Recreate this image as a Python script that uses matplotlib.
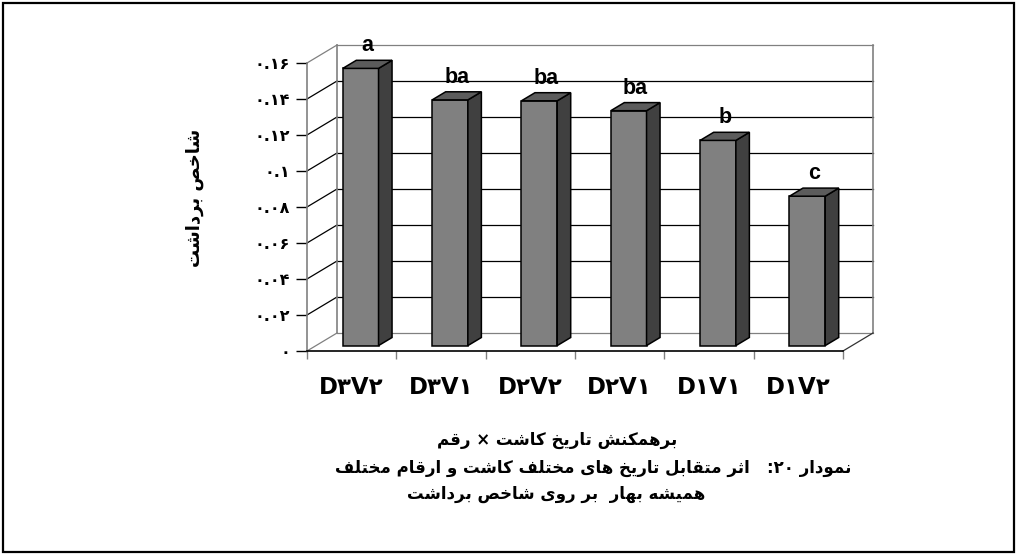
import re

import matplotlib

matplotlib.use("Agg")
import matplotlib.pyplot as plt
from matplotlib.patches import Polygon, Rectangle

# chart data
categories = ["D۳V۲", "D۳V۱", "D۲V۲", "D۲V۱", "D۱V۱", "D۱V۲"]
harvest_index = [0.154, 0.1365, 0.136, 0.1305, 0.114, 0.083]
groups = ["a", "ba", "ba", "ba", "b", "c"]
y_ticks = [0, 0.02, 0.04, 0.06, 0.08, 0.10, 0.12, 0.14, 0.16]
y_tick_labels = ["۰", "۰.۰۲", "۰.۰۴", "۰.۰۶", "۰.۰۸", "۰.۱", "۰.۱۲", "۰.۱۴", "۰.۱۶"]
y_title = "شاخص برداشت"
x_title = "برهمکنش تاریخ کاشت × رقم"
caption_no = "نمودار ۲۰:"
caption_1 = "اثر متقابل تاریخ های مختلف کاشت و ارقام مختلف"
caption_2 = "همیشه بهار  بر روی شاخص برداشت"

# persian letters -> presentation forms (isolated, final, initial, medial)
FORMS = {
    "ا": "\ufe8d\ufe8e",
    "ب": "\ufe8f\ufe90\ufe91\ufe92",
    "ت": "\ufe95\ufe96\ufe97\ufe98",
    "ث": "\ufe99\ufe9a\ufe9b\ufe9c",
    "خ": "\ufea5\ufea6\ufea7\ufea8",
    "د": "\ufea9\ufeaa",
    "ر": "\ufead\ufeae",
    "ش": "\ufeb5\ufeb6\ufeb7\ufeb8",
    "ص": "\ufeb9\ufeba\ufebb\ufebc",
    "ف": "\ufed1\ufed2\ufed3\ufed4",
    "ق": "\ufed5\ufed6\ufed7\ufed8",
    "ک": "\ufb8e\ufb8f\ufedb\ufedc",
    "ل": "\ufedd\ufede\ufedf\ufee0",
    "م": "\ufee1\ufee2\ufee3\ufee4",
    "ن": "\ufee5\ufee6\ufee7\ufee8",
    "و": "\ufeed\ufeee",
    "ه": "\ufee9\ufeea\ufeeb\ufeec",
    "ی": "\ufeef\ufef0\ufef3\ufef4",
}
DIGITS = "۰۱۲۳۴۵۶۷۸۹"


def shape(text):
    out = []
    for i, ch in enumerate(text):
        f = FORMS.get(ch)
        if f is None:
            out.append(ch)
            continue
        prev = text[i - 1] if i > 0 else ""
        nxt = text[i + 1] if i + 1 < len(text) else ""
        join_prev = prev in FORMS and len(FORMS[prev]) == 4
        join_next = nxt in FORMS and len(f) == 4
        if join_prev and join_next:
            out.append(f[3])
        elif join_prev:
            out.append(f[1])
        elif join_next:
            out.append(f[2])
        else:
            out.append(f[0])
    return "".join(out)


def rtl(text):
    runs = re.findall(f"[{DIGITS}]+|[^{DIGITS}]+", shape(text))
    return "".join(r if r[0] in DIGITS else r[::-1] for r in reversed(runs))


W, H = 1017, 555
fig = plt.figure(figsize=(W / 100, H / 100), dpi=100)
fig.patches.append(Rectangle((3 / W, 3 / H), 1 - 6 / W, 1 - 6 / H,
                             transform=fig.transFigure, fill=False,
                             lw=1.6, ec="black"))

ax = fig.add_axes([307 / W, (H - 351) / H, 536 / W, 288 / H])
ax.set_xlim(0, len(categories))
ax.set_ylim(0, 0.16)
ax.patch.set_alpha(0)

# oblique depth of the 3d box, in data units
dX, dY = 0.336, 0.010
grey = "#808080"

# back wall + left wall gridlines
for v in y_ticks:
    edge = v in (0, 0.16)
    c = grey if edge else "black"
    ax.plot([0, dX], [v, v + dY], color=c, lw=0.9, clip_on=False, zorder=1)
    ax.plot([dX, len(categories) + dX], [v + dY, v + dY], color=c, lw=0.9,
            clip_on=False, zorder=1)
ax.plot([dX, dX], [dY, 0.16 + dY], color=grey, lw=1.2, clip_on=False, zorder=1)
ax.plot([len(categories) + dX] * 2, [dY, 0.16 + dY], color=grey, lw=1.2,
        clip_on=False, zorder=1)
ax.plot([len(categories), len(categories) + dX], [0, dY], color="#333333",
        lw=0.9, clip_on=False, zorder=1)

# bars: front face with bar(), side and top as polygons
sx, sy = 0.3 * dX, 0.3 * dY
ddx, ddy = 0.45 * dX, 0.45 * dY
bw = 0.4
xs = [i + 0.5 + sx for i in range(len(categories))]
ax.bar(xs, harvest_index, width=bw, bottom=sy, color="#808080",
       edgecolor="black", lw=1.1, zorder=3)
for x, v, g in zip(xs, harvest_index, groups):
    r = x + bw / 2
    left = x - bw / 2
    side = [(r, sy), (r + ddx, sy + ddy), (r + ddx, v + sy + ddy), (r, v + sy)]
    top = [(left, v + sy), (r, v + sy), (r + ddx, v + sy + ddy),
           (left + ddx, v + sy + ddy)]
    ax.add_patch(Polygon(side, closed=True, fc="#404040", ec="black", lw=1.1,
                         zorder=3, clip_on=False))
    ax.add_patch(Polygon(top, closed=True, fc="#5c5c5c", ec="black", lw=1.1,
                         zorder=3, clip_on=False))
    ax.text(x + ddx / 2, v + sy + ddy + 0.005, g, ha="center", va="baseline",
            fontsize=15.5, fontweight="bold", family="Liberation Sans")

for s in ("top", "right"):
    ax.spines[s].set_visible(False)
ax.spines["left"].set_color(grey)
ax.spines["left"].set_linewidth(1.2)
ax.spines["bottom"].set_color("black")
ax.spines["bottom"].set_linewidth(1.2)

ax.set_yticks(y_ticks, y_tick_labels)
ax.tick_params(axis="y", length=8, width=1, color="black", pad=4,
               labelsize=11.5)
for lab in ax.get_yticklabels():
    lab.set_fontweight("bold")
    lab.set_family("DejaVu Sans")

ax.set_xticks([i + 0.5 for i in range(len(categories))], categories)
ax.set_xticks(range(len(categories) + 1), minor=True)
ax.tick_params(axis="x", which="major", length=0, pad=18, labelsize=16.5)
ax.tick_params(axis="x", which="minor", length=6, width=1, color=grey)
for lab in ax.get_xticklabels():
    lab.set_fontweight("bold")
    lab.set_family("DejaVu Sans")

txt = dict(fontweight="bold", family="DejaVu Sans", fontsize=12)
fig.text(195 / W, 1 - 198 / H, rtl(y_title), rotation=90, ha="center",
         va="center", fontweight="bold", family="DejaVu Sans", fontsize=13)
fig.text(557 / W, 1 - 440 / H, rtl(x_title), ha="center", va="center", **txt)
fig.text(851 / W, 1 - 468 / H, rtl(caption_no), ha="right", va="center", **txt)
fig.text(750 / W, 1 - 468 / H, rtl(caption_1), ha="right", va="center", **txt)
fig.text(556 / W, 1 - 494 / H, rtl(caption_2), ha="center", va="center", **txt)

fig.savefig("out.png", dpi=100)
